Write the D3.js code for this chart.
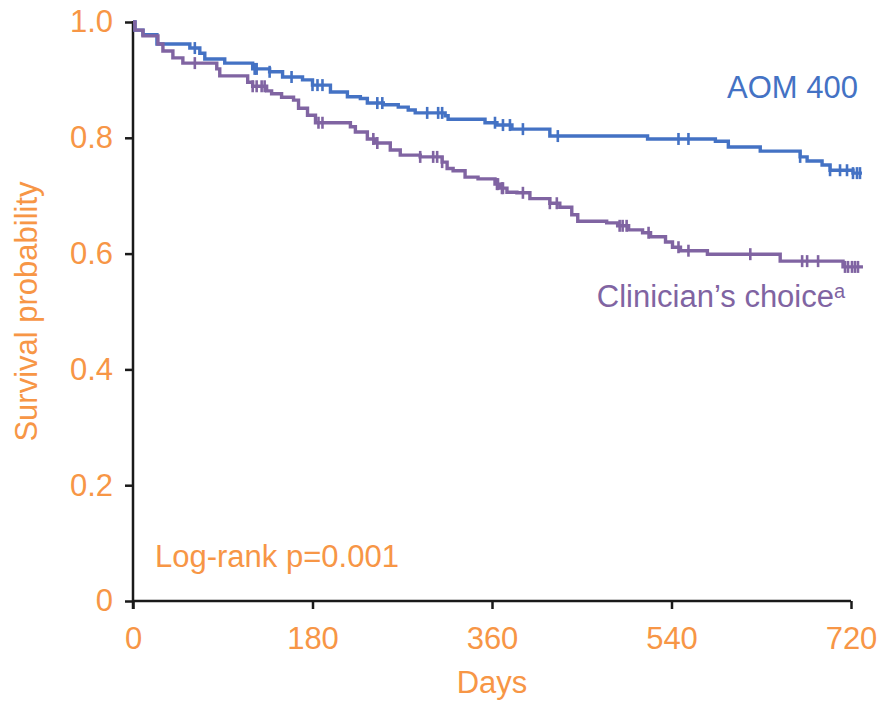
<!DOCTYPE html>
<html>
<head>
<meta charset="utf-8">
<script src="https://cdn.jsdelivr.net/npm/d3@7"></script>
<style>
  body { margin: 0; background: #fff; }
  svg text { font-family: "Liberation Sans", Arial, sans-serif; }
</style>
</head>
<body>
<div id="chart"></div>
<script>
// step points: [day, survival after the drop]
const aomSteps = [
  [0, 1.0], [2, 0.986], [10, 0.978], [24, 0.962], [57, 0.955], [67, 0.946], [72, 0.936],
  [92, 0.929], [120, 0.919], [137, 0.914], [150, 0.905], [170, 0.900], [180, 0.891],
  [198, 0.879], [215, 0.871], [228, 0.868], [235, 0.860], [251, 0.857], [266, 0.853],
  [276, 0.848], [283, 0.843], [313, 0.838], [316, 0.832], [353, 0.826], [365, 0.822],
  [380, 0.815], [418, 0.803], [516, 0.798], [584, 0.794], [597, 0.784], [629, 0.777],
  [669, 0.767], [676, 0.760], [691, 0.753], [699, 0.744], [722, 0.739]
];
const aomEnd = 731;
const aomCensored = [62, 122, 124, 137, 159, 180, 185, 190, 245, 250, 295, 306, 310, 363, 371,
  378, 391, 426, 547, 557, 669, 699, 709, 716, 722, 726, 729];

const ccSteps = [
  [0, 1.0], [2, 0.986], [10, 0.976], [25, 0.962], [30, 0.950], [40, 0.938], [50, 0.929],
  [84, 0.919], [87, 0.907], [115, 0.896], [120, 0.889], [134, 0.881], [139, 0.876],
  [149, 0.870], [161, 0.865], [166, 0.851], [175, 0.839], [183, 0.826], [218, 0.819],
  [223, 0.810], [235, 0.798], [243, 0.791], [258, 0.779], [268, 0.770], [288, 0.767],
  [310, 0.758], [315, 0.747], [321, 0.743], [333, 0.732], [346, 0.729], [363, 0.720],
  [368, 0.713], [375, 0.706], [385, 0.705], [398, 0.695], [418, 0.687], [428, 0.680],
  [440, 0.667], [446, 0.656], [475, 0.653], [486, 0.648], [497, 0.641], [511, 0.636],
  [519, 0.629], [534, 0.620], [541, 0.611], [549, 0.605], [576, 0.599], [649, 0.587],
  [712, 0.577]
];
const ccEnd = 732;
const ccCensored = [62, 120, 124, 129, 132, 186, 190, 241, 245, 288, 301, 305, 310, 365, 366,
  370, 371, 391, 418, 425, 488, 491, 495, 517, 547, 557, 619, 671, 676, 687, 714, 717, 721,
  724, 727];

const xTicks = [0, 180, 360, 540, 720];
const yTicks = [0, 0.2, 0.4, 0.6, 0.8, 1.0];

const orange = "#F79646";
const blue = "#4472C4";
const purple = "#8064A2";
const fontSize = "31px";

const width = 882, height = 703;
const margin = { top: 22, right: 31, bottom: 102, left: 133 };
const w = width - margin.left - margin.right;
const h = height - margin.top - margin.bottom;

const svg = d3.select("#chart")
  .append("svg")
  .attr("width", width)
  .attr("height", height);

const g = svg.append("g")
  .attr("transform", `translate(${margin.left},${margin.top})`);

const x = d3.scaleLinear().domain([0, 720]).range([0, w]);
const y = d3.scaleLinear().domain([0, 1]).range([h, 0]);

// axes
const yAxis = g.append("g")
  .call(d3.axisLeft(y).tickValues(yTicks).tickSize(8).tickPadding(12)
    .tickFormat(d => d === 0 ? "0" : d.toFixed(1)));
const xAxis = g.append("g")
  .attr("transform", `translate(0,${h})`)
  .call(d3.axisBottom(x).tickValues(xTicks).tickSize(8).tickPadding(18));

[yAxis, xAxis].forEach(ax => {
  ax.select(".domain").attr("stroke", "#1a1a1a").attr("stroke-width", 2.5);
  ax.selectAll(".tick line").attr("stroke", "#1a1a1a").attr("stroke-width", 2.5);
  ax.selectAll(".tick text").attr("fill", orange).style("font-size", fontSize);
});
// y axis runs down to meet the x tick at 0
yAxis.select(".domain").attr("d", `M0,-1V${h + 8}`);
xAxis.select(".domain").attr("d", `M0,0H${w}`);

function stepPath(steps, end) {
  const pts = [];
  steps.forEach((s, i) => {
    if (i > 0) pts.push([s[0], steps[i - 1][1]]);
    pts.push(s);
  });
  pts.push([end, steps[steps.length - 1][1]]);
  return d3.line().x(d => x(d[0])).y(d => y(d[1]))(pts);
}

function survAt(steps, t) {
  let v = steps[0][1];
  steps.forEach(s => { if (s[0] <= t) v = s[1]; });
  return v;
}

function drawCurve(steps, end, censored, color) {
  g.append("path")
    .attr("d", stepPath(steps, end))
    .attr("fill", "none")
    .attr("stroke", color)
    .attr("stroke-width", 3.4);
  g.append("g")
    .selectAll("line")
    .data(censored)
    .join("line")
    .attr("x1", d => x(d))
    .attr("x2", d => x(d))
    .attr("y1", d => y(survAt(steps, d)) - 6)
    .attr("y2", d => y(survAt(steps, d)) + 6)
    .attr("stroke", color)
    .attr("stroke-width", 2.6);
}

drawCurve(aomSteps, aomEnd, aomCensored, blue);
drawCurve(ccSteps, ccEnd, ccCensored, purple);

// axis titles
svg.append("text")
  .attr("transform", `translate(37,${margin.top + h / 2}) rotate(-90)`)
  .attr("text-anchor", "middle")
  .attr("fill", orange)
  .style("font-size", fontSize)
  .text("Survival probability");

svg.append("text")
  .attr("x", margin.left + w / 2)
  .attr("y", 693)
  .attr("text-anchor", "middle")
  .attr("fill", orange)
  .style("font-size", fontSize)
  .text("Days");

// labels
svg.append("text")
  .attr("x", 858)
  .attr("y", 98)
  .attr("text-anchor", "end")
  .attr("fill", blue)
  .style("font-size", fontSize)
  .text("AOM 400");

svg.append("text")
  .attr("x", 834)
  .attr("y", 307)
  .attr("text-anchor", "end")
  .attr("fill", purple)
  .style("font-size", fontSize)
  .text("Clinician\u2019s choice");
svg.append("text")
  .attr("x", 834)
  .attr("y", 298)
  .attr("fill", purple)
  .style("font-size", "20px")
  .text("a");

svg.append("text")
  .attr("x", 155)
  .attr("y", 567)
  .attr("fill", orange)
  .style("font-size", fontSize)
  .text("Log-rank p=0.001");
</script>
</body>
</html>
